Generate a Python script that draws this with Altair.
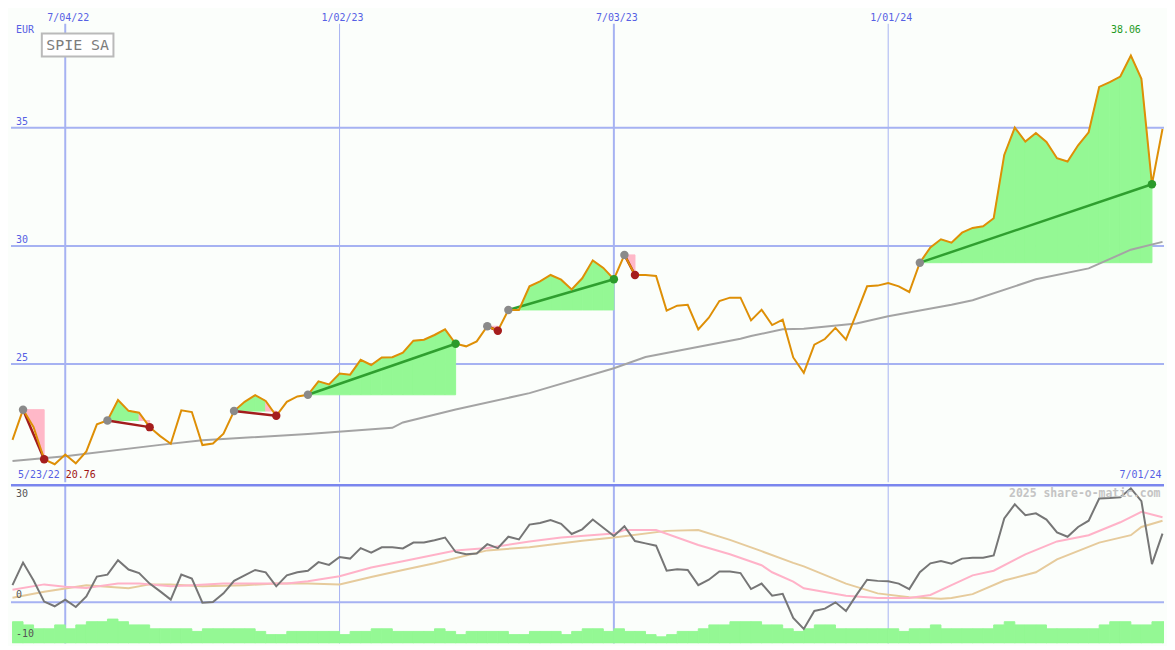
import altair as alt
import pandas as pd

# ------------------------------------------------------------------ data
week_start = "2022-05-30"          # first weekly point (Mondays)
n_weeks = 110

price = [21.79, 23.07, 22.33, 20.97, 20.76, 21.17, 20.80, 21.30, 22.45, 22.61,
         23.48, 23.02, 22.94, 22.33, 21.95, 21.63, 23.04, 22.97, 21.57, 21.64,
         22.05, 23.01, 23.40, 23.68, 23.44, 22.81, 23.40, 23.63, 23.70, 24.27,
         24.14, 24.60, 24.55, 25.18, 24.96, 25.28, 25.29, 25.48, 25.99, 26.03,
         26.23, 26.47, 25.86, 25.75, 25.96, 26.60, 26.41, 27.29, 27.29, 28.29,
         28.50, 28.77, 28.57, 28.16, 28.63, 29.39, 29.07, 28.59, 29.62, 28.77,
         28.77, 28.73, 27.26, 27.47, 27.51, 26.47, 26.96, 27.67, 27.81, 27.81,
         26.85, 27.30, 26.65, 26.88, 25.28, 24.63, 25.82, 26.06, 26.53, 26.03,
         27.14, 28.29, 28.32, 28.43, 28.29, 28.05, 29.29, 29.94, 30.28, 30.14,
         30.56, 30.76, 30.83, 31.17, 33.85, 35.01, 34.42, 34.78, 34.40, 33.71,
         33.57, 34.26, 34.81, 36.73, 36.93, 37.17, 38.06, 37.07, 32.61, 34.95]

oscillator = [4.4, 10.2, 5.6, 0.2, -1.0, 0.7, -1.2, 1.5, 6.6, 7.1,
              10.8, 8.4, 7.5, 4.8, 2.8, 0.7, 7.1, 6.1, -0.1, 0.1,
              2.3, 5.5, 6.9, 8.3, 7.7, 4.1, 6.9, 7.7, 8.1, 10.3,
              9.6, 11.6, 11.2, 13.9, 12.7, 14.1, 14.1, 13.8, 15.3, 15.3,
              15.9, 16.6, 12.9, 12.3, 12.5, 14.9, 13.9, 16.8, 16.1, 19.9,
              20.3, 21.1, 20.1, 17.5, 18.7, 21.2, 19.1, 17.0, 19.5, 15.7,
              15.1, 14.5, 8.1, 8.5, 8.3, 4.4, 5.8, 7.9, 7.9, 7.5,
              3.4, 4.8, 1.7, 2.2, -4.0, -6.8, -2.2, -1.6, 0.0, -2.2,
              1.9, 5.8, 5.5, 5.4, 4.8, 3.4, 7.7, 10.0, 10.6, 9.9,
              11.2, 11.4, 11.4, 12.0, 21.5, 25.1, 22.3, 22.8, 21.2, 17.9,
              16.8, 19.3, 20.9, 26.6, 26.7, 26.9, 29.2, 25.9, 9.8, 17.6]

volume = [22.3, 19, 15, 15, 19, 15, 19, 22.3, 22.3, 25,
          22.3, 19, 19, 15, 15, 15, 15, 12.3, 15, 15,
          15, 15, 15, 12.3, 9, 9, 12.3, 12.3, 12.3, 12.3,
          12.3, 9, 12.3, 12.3, 15, 15, 12.3, 12.3, 12.3, 12.3,
          15, 12.3, 9, 12.3, 12.3, 12.3, 12.3, 9, 9, 12.3,
          12.3, 12.3, 9, 12.3, 15, 15, 12.3, 15, 12.3, 12.3,
          9, 6.7, 9, 12.3, 12.3, 15, 19, 19, 22.3, 22.3,
          22.3, 19, 19, 15, 12.3, 15, 19, 19, 15, 15,
          15, 15, 15, 15, 12.3, 15, 15, 19, 15, 15,
          15, 15, 15, 19, 22.3, 19, 19, 19, 15, 15,
          15, 15, 15, 19, 22.3, 22.3, 19, 19, 22.3, 22.3]

ma_weeks = [0, 5, 14, 18, 28, 36, 37, 42, 49, 57, 60, 69, 70, 73, 75, 80, 83,
            89, 91, 97, 102, 106, 109]
ma_values = [20.90, 21.10, 21.58, 21.78, 22.04, 22.30, 22.53, 23.08, 23.77, 24.82,
             25.30, 26.07, 26.19, 26.47, 26.49, 26.72, 27.02, 27.51, 27.70, 28.59,
             29.05, 29.84, 30.17]

fast_weeks = [0, 3, 5, 7, 10, 12, 15, 17, 20, 23, 26, 28, 31, 34, 37, 42, 45, 49,
              52, 57, 58, 61, 65, 68, 71, 72, 74, 75, 79, 82, 85, 87, 89, 91, 93,
              96, 99, 102, 105, 107, 109]
fast_values = [3.2, 4.6, 4.0, 3.7, 4.8, 4.8, 4.1, 4.4, 4.8, 4.8, 4.8, 5.4, 6.7, 8.9,
               10.5, 13.3, 13.9, 15.6, 16.6, 17.6, 18.5, 18.5, 14.7, 12.3, 9.5, 7.7,
               5.3, 3.6, 1.7, 1.1, 1.1, 1.9, 4.4, 6.9, 8.1, 12.3, 15.6, 17.2, 20.5,
               23.2, 21.8]

slow_weeks = [0, 3, 7, 11, 13, 15, 18, 22, 25, 28, 31, 34, 37, 40, 45, 49, 54, 57,
              62, 65, 68, 71, 74, 75, 79, 82, 85, 88, 89, 91, 94, 97, 99, 103, 106,
              107, 109]
slow_values = [1.2, 2.7, 4.4, 3.6, 4.6, 4.6, 4.1, 4.4, 4.8, 4.8, 4.6, 6.5, 8.3, 10.0,
               13.3, 14.1, 15.8, 16.6, 18.3, 18.5, 16.0, 13.1, 10.1, 9.2, 4.8, 2.3,
               1.3, 0.9, 1.1, 2.1, 5.6, 7.7, 11.0, 15.3, 17.2, 19.3, 20.9]

trade_entry_weeks = [1, 9, 21, 28, 45, 47, 58, 86]
trade_exit_weeks = [3, 13, 25, 42, 46, 57, 59, 108]

grid_dates = ["2022-07-04", "2023-01-02", "2023-07-03", "2024-01-01"]
price_ticks = [25, 30, 35]
osc_ticks = [30, 0, -10]

instrument = "SPIE SA"
currency = "EUR"
period_start_label = "5/23/22"
period_end_label = "7/01/24"
credit = "2025 share-o-matic.com"

# ------------------------------------------------------------------ style
W, H1, H2 = 1159, 475, 159
BG = "#fbfefb"
BLUE_TXT = "#5660e4"
GRID = "#a6b2f2"
DIVIDER = "#7a86ee"
FONT = "DejaVu Sans Mono"
VOL_GREEN = "#94f894"

dates = [d.strftime("%Y-%m-%d") for d in pd.date_range(week_start, periods=n_weeks, freq="7D")]
next_dates = [d.strftime("%Y-%m-%d") for d in pd.date_range(week_start, periods=n_weeks + 1, freq="7D")[1:]]
x_start = "2022-05-29"

xs = alt.Scale(type="utc", domain=[alt.DateTime(year=2022, month=5, date=29, utc=True),
                                   alt.DateTime(year=2024, month=7, date=2, utc=True)])
y1 = alt.Scale(domain=[20, 40])
y2 = alt.Scale(domain=[-10.5, 30])
vol_scale = alt.Scale(domain=[0, 163])

kinds = ["up", "down", "win", "loss", "entry", "exitwin", "exitloss"]
kind_colors = ["#94f894", "#ffb8c8", "#2f9f2f", "#a21c1c", "#8a8a8a", "#2b9a2b", "#a51d1d"]
cscale = alt.Scale(domain=kinds, range=kind_colors)


def X(f="date"):
    return alt.X(f"{f}:T", scale=xs, axis=None)


def date_label(s):
    t = pd.Timestamp(s)
    return f"{t.month}/{t.day:02d}/{t.year % 100:02d}"


# ------------------------------------------------------------------ frames
price_df = pd.DataFrame({"date": dates, "price": price})
ma_df = pd.DataFrame({"date": [dates[k] for k in ma_weeks], "v": ma_values})

fill_rows, line_rows, dot_rows = [], [], []
seg = 0
for t, (e, x) in enumerate(zip(trade_entry_weeks, trade_exit_weeks)):
    ep = price[e]
    for i in range(e, x):
        kind = "up" if price[i + 1] >= ep else "down"
        for j in (i, i + 1):
            fill_rows.append({"seg": seg, "date": dates[j], "price": price[j], "base": ep, "kind": kind})
        seg += 1
    res = "win" if price[x] > ep else "loss"
    line_rows.append({"t": t, "date": dates[e], "price": ep, "kind": res})
    line_rows.append({"t": t, "date": dates[x], "price": price[x], "kind": res})
    dot_rows.append({"date": dates[e], "price": ep, "kind": "entry"})
    dot_rows.append({"date": dates[x], "price": price[x], "kind": "exit" + res})
fill_df = pd.DataFrame(fill_rows)
line_df = pd.DataFrame(line_rows)
dot_df = pd.DataFrame(dot_rows)

vgrid_df = pd.DataFrame({
    "date": grid_dates,
    "w": [2 if pd.Timestamp(d).month == 7 else 1 for d in grid_dates],
    "label": [date_label(d) for d in grid_dates],
    "top": 39.4, "bot": 20, "otop": 30, "obot": -10.5, "ytxt": 40,
})
hgrid_df = pd.DataFrame({"v": price_ticks, "date": x_start, "label": [str(v) for v in price_ticks]})

imax = max(range(n_weeks), key=lambda i: price[i])
imin = min(range(n_weeks), key=lambda i: price[i])
max_df = pd.DataFrame({"date": [dates[imax]], "price": [price[imax]], "label": [f"{price[imax]:.2f}"]})
corner_df = pd.DataFrame({"date": [x_start], "end": [dates[-1]], "y": [20], "ytop": [40],
                          "start_label": [period_start_label], "min_label": [f"{price[imin]:.2f}"],
                          "end_label": [period_end_label], "cur": [currency]})

# ------------------------------------------------------------------ upper panel
hgrid = alt.Chart(hgrid_df).mark_rule(color=GRID, strokeWidth=2).encode(
    y=alt.Y("v:Q", scale=y1, axis=None))
vgrid = alt.Chart(vgrid_df).mark_rule(color=GRID).encode(
    x=X(), y=alt.Y("top:Q", scale=y1, axis=None), y2="bot:Q",
    strokeWidth=alt.StrokeWidth("w:Q", scale=None))
fills = alt.Chart(fill_df).mark_area(opacity=1, clip=True, strokeWidth=1).encode(
    x=X(), y=alt.Y("price:Q", scale=y1, axis=None), y2="base:Q",
    detail="seg:N", color=alt.Color("kind:N", scale=cscale, legend=None),
    stroke=alt.Stroke("kind:N", scale=cscale, legend=None))
ma_line = alt.Chart(ma_df).mark_line(color="#a4a4a4", strokeWidth=2).encode(
    x=X(), y=alt.Y("v:Q", scale=y1, axis=None))
trade_lines = alt.Chart(line_df).mark_line(strokeWidth=2.5).encode(
    x=X(), y=alt.Y("price:Q", scale=y1, axis=None), detail="t:N",
    color=alt.Color("kind:N", scale=cscale, legend=None))
price_line = alt.Chart(price_df).mark_line(color="#de8f06", strokeWidth=2).encode(
    x=X(), y=alt.Y("price:Q", scale=y1, axis=None))
dots = alt.Chart(dot_df).mark_circle(size=72, opacity=1).encode(
    x=X(), y=alt.Y("price:Q", scale=y1, axis=None),
    color=alt.Color("kind:N", scale=cscale, legend=None))

top_labels = alt.Chart(vgrid_df).mark_text(font=FONT, fontSize=10, color=BLUE_TXT, baseline="top", dy=3, dx=3).encode(
    x=X(), y=alt.Y("ytxt:Q", scale=y1, axis=None), text="label:N")
price_labels = alt.Chart(hgrid_df).mark_text(font=FONT, fontSize=10, color=BLUE_TXT, align="left",
                                             baseline="bottom", dx=5, dy=-1).encode(
    x=X(), y=alt.Y("v:Q", scale=y1, axis=None), text="label:N")
cur_label = alt.Chart(corner_df).mark_text(font=FONT, fontSize=10, color=BLUE_TXT, align="left",
                                           baseline="middle", dx=5, dy=20).encode(
    x=X(), y=alt.Y("ytop:Q", scale=y1, axis=None), text="cur:N")
start_label = alt.Chart(corner_df).mark_text(font=FONT, fontSize=10, color=BLUE_TXT, align="left",
                                             baseline="bottom", dx=7, dy=-2).encode(
    x=X(), y=alt.Y("y:Q", scale=y1, axis=None), text="start_label:N")
min_label = alt.Chart(corner_df).mark_text(font=FONT, fontSize=10, color="#a01212", align="left",
                                           baseline="bottom", dx=55, dy=-2).encode(
    x=X(), y=alt.Y("y:Q", scale=y1, axis=None), text="min_label:N")
end_label = alt.Chart(corner_df).mark_text(font=FONT, fontSize=10, color=BLUE_TXT, align="right",
                                           baseline="bottom", dx=-1, dy=-2).encode(
    x=X("end"), y=alt.Y("y:Q", scale=y1, axis=None), text="end_label:N")
max_label = alt.Chart(max_df).mark_text(font=FONT, fontSize=10, color="#1f9b1f", align="center",
                                        baseline="bottom", dx=-5, dy=-21).encode(
    x=X(), y=alt.Y("price:Q", scale=y1, axis=None), text="label:N")

box_df = pd.DataFrame({"name": [instrument]})
name_box = alt.Chart(box_df).mark_point(
    shape="M-1,-0.32L1,-0.32L1,0.32L-1,0.32Z", size=72 * 72, filled=True,
    fill="#ffffff", stroke="#bababa", strokeWidth=2, opacity=1).encode(
    x=alt.value(67), y=alt.value(35.5))
name_text = alt.Chart(box_df).mark_text(font=FONT, fontSize=15, color="#7c7c7c").encode(
    x=alt.value(67), y=alt.value(36), text="name:N")

upper = alt.layer(hgrid, vgrid, fills, ma_line, trade_lines, price_line, dots,
                  top_labels, price_labels, cur_label, start_label, min_label, end_label,
                  max_label, name_box, name_text).properties(width=W, height=H1)

# ------------------------------------------------------------------ lower panel
osc_df = pd.DataFrame({"date": dates, "v": oscillator})
fast_df = pd.DataFrame({"date": [dates[k] for k in fast_weeks], "v": fast_values})
slow_df = pd.DataFrame({"date": [dates[k] for k in slow_weeks], "v": slow_values})
vol_df = pd.DataFrame({"date": dates, "date2": next_dates, "vol": volume, "zero": 0})
otick_df = pd.DataFrame({"date": x_start, "v": osc_ticks, "label": [str(v) for v in osc_ticks]})
credit_df = pd.DataFrame({"date": [dates[-1]], "v": [30], "label": [credit]})

lvgrid = alt.Chart(vgrid_df).mark_rule(color=GRID).encode(
    x=X(), y=alt.Y("otop:Q", scale=y2, axis=None), y2="obot:Q",
    strokeWidth=alt.StrokeWidth("w:Q", scale=None))
zero_line = alt.Chart(otick_df[otick_df.v == 0]).mark_rule(color=GRID, strokeWidth=2).encode(
    y=alt.Y("v:Q", scale=y2, axis=None))
vol_bars = alt.Chart(vol_df).mark_rect(color=VOL_GREEN, stroke=VOL_GREEN, strokeWidth=1, clip=True).encode(
    x=X(), x2="date2:T", y=alt.Y("vol:Q", scale=vol_scale, axis=None), y2="zero:Q")
slow_line = alt.Chart(slow_df).mark_line(color="#e6cb9c", strokeWidth=2).encode(
    x=X(), y=alt.Y("v:Q", scale=y2, axis=None))
fast_line = alt.Chart(fast_df).mark_line(color="#ffb2c8", strokeWidth=2).encode(
    x=X(), y=alt.Y("v:Q", scale=y2, axis=None))
osc_line = alt.Chart(osc_df).mark_line(color="#767676", strokeWidth=2).encode(
    x=X(), y=alt.Y("v:Q", scale=y2, axis=None))
divider = alt.Chart(otick_df[otick_df.v == 30]).mark_rule(color=DIVIDER, strokeWidth=2.5).encode(
    y=alt.Y("v:Q", scale=y2, axis=None))
otop_label = alt.Chart(otick_df[otick_df.v > 0]).mark_text(
    font=FONT, fontSize=10, color="#555555", align="left", baseline="top", dx=5, dy=4).encode(
    x=X(), y=alt.Y("v:Q", scale=y2, axis=None), text="label:N")
olow_labels = alt.Chart(otick_df[otick_df.v <= 0]).mark_text(
    font=FONT, fontSize=10, color="#555555", align="left", baseline="bottom", dx=5, dy=-2).encode(
    x=X(), y=alt.Y("v:Q", scale=y2, axis=None), text="label:N")
credit_text = alt.Chart(credit_df).mark_text(
    font=FONT, fontSize=11.5, fontWeight="bold", color="#c4c4c4", align="right",
    baseline="middle", dx=-2, dy=9).encode(
    x=X(), y=alt.Y("v:Q", scale=y2, axis=None), text="label:N")

lower = alt.layer(lvgrid, zero_line, vol_bars, slow_line, fast_line, osc_line, divider,
                  otop_label, olow_labels, credit_text).resolve_scale(y="independent").properties(
    width=W, height=H2)

chart = alt.vconcat(upper, lower, spacing=0, background=BG, padding=0).configure_view(stroke=None)

chart.save("out.html", embed_options={"renderer": "svg", "actions": False})
